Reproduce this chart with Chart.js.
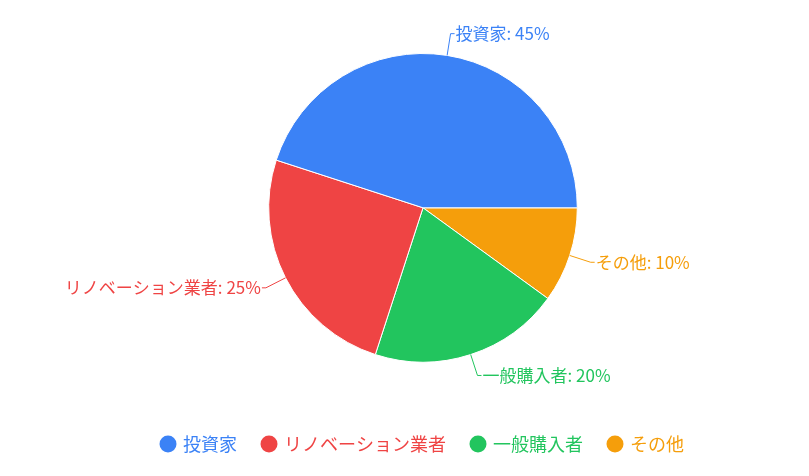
<!DOCTYPE html>
<html><head><meta charset="utf-8">
<script src="https://cdn.jsdelivr.net/npm/chart.js@4"></script>
<style>body{margin:0;background:#fff}#wrap{width:809px;height:476px}</style>
</head><body><div id="wrap"><canvas id="c"></canvas></div>
<script>
// drawn clockwise from 3 o'clock, so kept in reverse of legend order
const labels = ['その他', '一般購入者', 'リノベーション業者', '投資家'];
const values = [10, 20, 25, 45];
const colors = ['#f59e0b', '#22c55e', '#ef4444', '#3b82f6'];
const FONT = '"Noto Sans CJK JP", "Noto Sans", sans-serif';

const outLabels = {
    id: 'outLabels',
    afterDatasetsDraw(chart) {
        const ctx = chart.ctx;
        const meta = chart.getDatasetMeta(0);
        ctx.save();
        ctx.font = '17px ' + FONT;
        meta.data.forEach((arc, i) => {
            const mid = (arc.startAngle + arc.endAngle) / 2;
            const r = arc.outerRadius;
            const cos = Math.cos(mid), sin = Math.sin(mid);
            const x1 = arc.x + cos * r, y1 = arc.y + sin * r;
            const x2 = arc.x + cos * (r + 22), y2 = arc.y + sin * (r + 22);
            const right = cos >= 0;
            ctx.strokeStyle = colors[i];
            ctx.lineWidth = 1;
            ctx.beginPath();
            ctx.moveTo(x1, y1);
            ctx.lineTo(x2, y2);
            ctx.lineTo(x2 + (right ? 4 : -4), y2);
            ctx.stroke();
            ctx.fillStyle = colors[i];
            ctx.textAlign = right ? 'left' : 'right';
            ctx.textBaseline = 'middle';
            ctx.fillText(labels[i] + ': ' + values[i] + '%', x2 + (right ? 5 : -5), y2);
        });
        ctx.restore();
    }
};

new Chart(document.getElementById('c'), {
    type: 'pie',
    data: {
        labels: labels,
        datasets: [{ data: values, backgroundColor: colors, borderColor: '#fff', borderWidth: 1 }]
    },
    options: {
        responsive: true,
        maintainAspectRatio: false,
        animation: false,
        rotation: 90,
        layout: { padding: { top: 53, bottom: 13, left: 37 } },
        plugins: {
            tooltip: { enabled: false },
            legend: {
                position: 'bottom',
                reverse: true,
                title: { display: true, text: ' ', font: { size: 17 }, padding: { top: 20, bottom: 6 } },
                labels: {
                    usePointStyle: true,
                    pointStyle: 'circle',
                    boxWidth: 12,
                    boxHeight: 12,
                    padding: 26,
                    font: { size: 18, family: FONT },
                    generateLabels(chart) {
                        return labels.map((l, i) => ({
                            text: l, fillStyle: colors[i], strokeStyle: colors[i],
                            fontColor: colors[i], pointStyle: 'circle', lineWidth: 0, index: i
                        }));
                    }
                }
            }
        }
    },
    plugins: [outLabels]
});
</script></body></html>
